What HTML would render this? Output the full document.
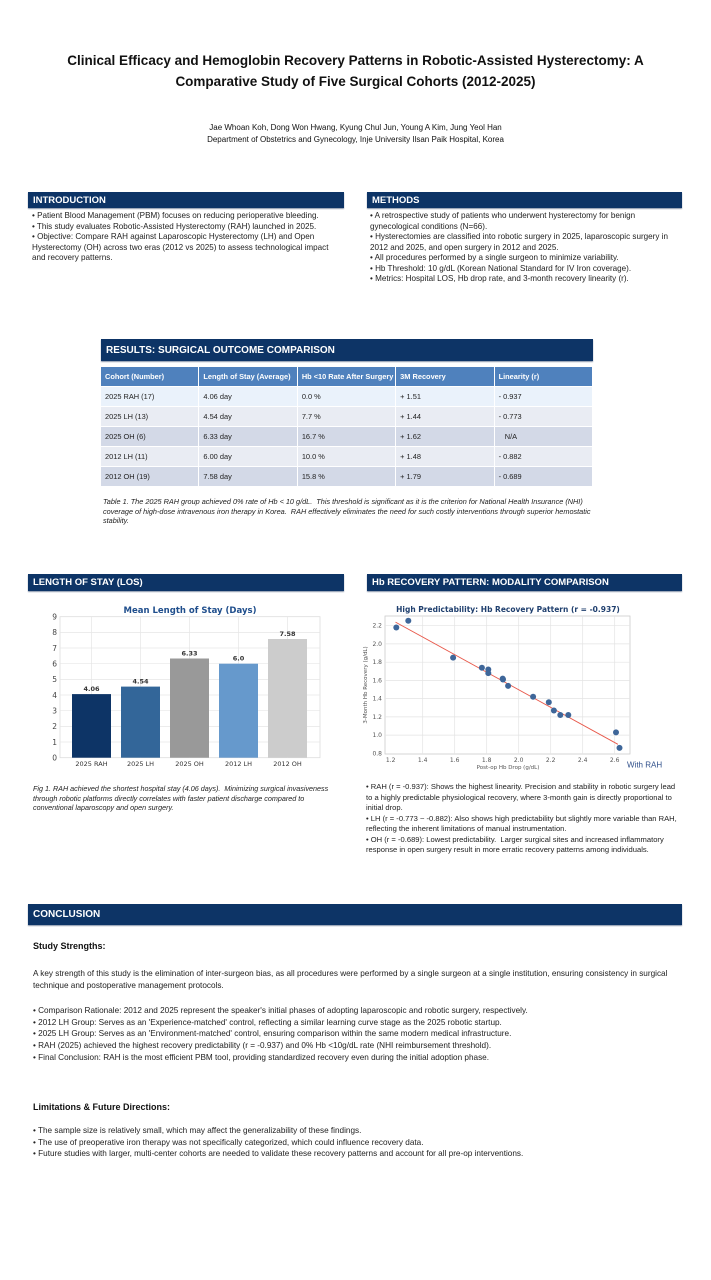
<!DOCTYPE html>
<html><head><meta charset="utf-8"><style>
body{margin:0;width:711px;height:1280px;background:#fff;position:relative;font-family:"Liberation Sans",sans-serif;color:#111;overflow:hidden}
.a{position:absolute}
.hd{position:absolute;background:#0d3466;color:#fff;font-weight:bold;font-size:9.5px;box-sizing:border-box;padding-left:5px;display:flex;align-items:center;box-shadow:0 1px 1px #8895aa}
.t{position:absolute;font-size:8.1px;line-height:10.5px;color:#222}
.it{font-style:italic;font-size:7.2px;line-height:9.6px}
table{border-collapse:collapse;font-size:7.4px;color:#222}
td{height:19px;padding:0 0 0 4px;border-right:1px solid #fff;border-bottom:1px solid #fff;width:94px}
</style></head><body>
<div class="a" style="left:0;top:50px;width:711px;text-align:center;font-weight:bold;font-size:13.5px;line-height:21px">Clinical Efficacy and Hemoglobin Recovery Patterns in Robotic-Assisted Hysterectomy: A<br>Comparative Study of Five Surgical Cohorts (2012-2025)</div>
<div class="a" style="left:0;top:122px;width:711px;text-align:center;font-size:8px;line-height:11.5px">Jae Whoan Koh, Dong Won Hwang, Kyung Chul Jun, Young A Kim, Jung Yeol Han<br>Department of Obstetrics and Gynecology, Inje University Ilsan Paik Hospital, Korea</div>

<div class="hd" style="left:28px;top:192px;width:316px;height:16px">INTRODUCTION</div>
<div class="t" style="left:32px;top:211px;width:312px">• Patient Blood Management (PBM) focuses on reducing perioperative bleeding.<br>• This study evaluates Robotic-Assisted Hysterectomy (RAH) launched in 2025.<br>• Objective: Compare RAH against Laparoscopic Hysterectomy (LH) and Open Hysterectomy (OH) across two eras (2012 vs 2025) to assess technological impact and recovery patterns.</div>

<div class="hd" style="left:367px;top:192px;width:315px;height:16px">METHODS</div>
<div class="t" style="left:370px;top:211px;width:312px">• A retrospective study of patients who underwent hysterectomy for benign gynecological conditions (N=66).<br>• Hysterectomies are classified into robotic surgery in 2025, laparoscopic surgery in 2012 and 2025, and open surgery in 2012 and 2025.<br>• All procedures performed by a single surgeon to minimize variability.<br>• Hb Threshold: 10 g/dL (Korean National Standard for IV Iron coverage).<br>• Metrics: Hospital LOS, Hb drop rate, and 3-month recovery linearity (r).</div>

<div class="hd" style="left:101px;top:339px;width:492px;height:22px;font-size:10px">RESULTS: SURGICAL OUTCOME COMPARISON</div>
<table class="a" style="left:101px;top:367px;width:492px">
<tr style="background:#4f81bd;color:#fff;font-weight:bold"><td style="height:18px">Cohort (Number)</td><td>Length of Stay (Average)</td><td>Hb &lt;10 Rate After Surgery</td><td>3M Recovery</td><td>Linearity (r)</td></tr>
<tr style="background:#eaf2fb"><td>2025 RAH (17)</td><td>4.06 day</td><td>0.0 %</td><td>+ 1.51</td><td>- 0.937</td></tr>
<tr style="background:#e9ecf3"><td>2025 LH (13)</td><td>4.54 day</td><td>7.7 %</td><td>+ 1.44</td><td>- 0.773</td></tr>
<tr style="background:#d3d9e7"><td>2025 OH (6)</td><td>6.33 day</td><td>16.7 %</td><td>+ 1.62</td><td>&nbsp;&nbsp;&nbsp;N/A</td></tr>
<tr style="background:#e9ecf3"><td>2012 LH (11)</td><td>6.00 day</td><td>10.0 %</td><td>+ 1.48</td><td>- 0.882</td></tr>
<tr style="background:#d3d9e7"><td>2012 OH (19)</td><td>7.58 day</td><td>15.8 %</td><td>+ 1.79</td><td>- 0.689</td></tr>
</table>
<div class="t it" style="left:103px;top:497px;width:492px;font-size:7.3px">Table 1. The 2025 RAH group achieved 0% rate of Hb &lt; 10 g/dL.&nbsp; This threshold is significant as it is the criterion for National Health Insurance (NHI) coverage of high-dose intravenous iron therapy in Korea.&nbsp; RAH effectively eliminates the need for such costly interventions through superior hemostatic stability.</div>

<div class="hd" style="left:28px;top:574px;width:316px;height:17px">LENGTH OF STAY (LOS)</div>
<div class="hd" style="left:367px;top:574px;width:315px;height:17px">Hb RECOVERY PATTERN: MODALITY COMPARISON</div>

<svg class="a" style="left:0;top:595px" width="355" height="180" font-family="DejaVu Sans,sans-serif">
<g transform="translate(0,-595)">
<text x="190" y="613" text-anchor="middle" font-size="8.5" font-weight="bold" fill="#1f4e8c">Mean Length of Stay (Days)</text>
<rect x="60" y="616.7" width="260" height="141" fill="#fff" stroke="#ddd" stroke-width="0.8"/>
<g stroke="#e6e6e6" stroke-width="0.7">
<line x1="60" x2="320" y1="742" y2="742"/><line x1="60" x2="320" y1="726.4" y2="726.4"/><line x1="60" x2="320" y1="710.7" y2="710.7"/><line x1="60" x2="320" y1="695" y2="695"/><line x1="60" x2="320" y1="679.4" y2="679.4"/><line x1="60" x2="320" y1="663.7" y2="663.7"/><line x1="60" x2="320" y1="648" y2="648"/><line x1="60" x2="320" y1="632.4" y2="632.4"/>
<line x1="91.5" x2="91.5" y1="617" y2="758"/><line x1="140.5" x2="140.5" y1="617" y2="758"/><line x1="189.5" x2="189.5" y1="617" y2="758"/><line x1="238.5" x2="238.5" y1="617" y2="758"/><line x1="287.5" x2="287.5" y1="617" y2="758"/>
</g>
<g font-size="7.5" fill="#444" text-anchor="end">
<text x="57" y="760.5">0</text><text x="57" y="744.8">1</text><text x="57" y="729.2">2</text><text x="57" y="713.5">3</text><text x="57" y="697.8">4</text><text x="57" y="682.2">5</text><text x="57" y="666.5">6</text><text x="57" y="650.8">7</text><text x="57" y="635.2">8</text><text x="57" y="619.5">9</text>
</g>
<rect x="72" y="694.1" width="39" height="63.6" fill="#0d3466"/>
<rect x="121" y="686.6" width="39" height="71.1" fill="#336699"/>
<rect x="170" y="658.5" width="39" height="99.2" fill="#999"/>
<rect x="219" y="663.7" width="39" height="94" fill="#6699cc"/>
<rect x="268" y="639" width="39" height="118.7" fill="#cccccc"/>
<g font-size="6.5" font-weight="bold" fill="#333" text-anchor="middle">
<text x="91.5" y="691">4.06</text><text x="140.5" y="683.5">4.54</text><text x="189.5" y="655.5">6.33</text><text x="238.5" y="660.5">6.0</text><text x="287.5" y="636">7.58</text>
</g>
<g font-size="6.5" fill="#333" text-anchor="middle">
<text x="91.5" y="766">2025 RAH</text><text x="140.5" y="766">2025 LH</text><text x="189.5" y="766">2025 OH</text><text x="238.5" y="766">2012 LH</text><text x="287.5" y="766">2012 OH</text>
</g></g></svg>
<div class="t it" style="left:33px;top:784px;width:300px">Fig 1. RAH achieved the shortest hospital stay (4.06 days).&nbsp; Minimizing surgical invasiveness through robotic platforms directly correlates with faster patient discharge compared to conventional laparoscopy and open surgery.</div>

<svg class="a" style="left:355px;top:595px" width="356" height="180" font-family="DejaVu Sans,sans-serif">
<g transform="translate(-355,-595)">
<text x="508" y="612" text-anchor="middle" font-size="7.5" font-weight="bold" fill="#1f3f6e">High Predictability: Hb Recovery Pattern (r = -0.937)</text>
<rect x="385" y="616" width="245" height="138" fill="#fff" stroke="#ccc" stroke-width="0.8"/>
<g stroke="#e3e3e3" stroke-width="0.7">
<line x1="422.7" x2="422.7" y1="616" y2="754"/><line x1="454.7" x2="454.7" y1="616" y2="754"/><line x1="486.7" x2="486.7" y1="616" y2="754"/><line x1="518.7" x2="518.7" y1="616" y2="754"/><line x1="550.7" x2="550.7" y1="616" y2="754"/><line x1="582.7" x2="582.7" y1="616" y2="754"/><line x1="614.7" x2="614.7" y1="616" y2="754"/>
<line x1="385" x2="630" y1="625.7" y2="625.7"/><line x1="385" x2="630" y1="643.9" y2="643.9"/><line x1="385" x2="630" y1="662.2" y2="662.2"/><line x1="385" x2="630" y1="680.4" y2="680.4"/><line x1="385" x2="630" y1="698.6" y2="698.6"/><line x1="385" x2="630" y1="716.9" y2="716.9"/><line x1="385" x2="630" y1="735.1" y2="735.1"/>
</g>
<g font-size="6" fill="#555" text-anchor="end">
<text x="382" y="627.7">2.2</text><text x="382" y="645.9">2.0</text><text x="382" y="664.2">1.8</text><text x="382" y="682.4">1.6</text><text x="382" y="700.6">1.4</text><text x="382" y="718.9">1.2</text><text x="382" y="737.1">1.0</text><text x="382" y="755.3">0.8</text>
</g>
<g font-size="6" fill="#555" text-anchor="middle">
<text x="390.7" y="762">1.2</text><text x="422.7" y="762">1.4</text><text x="454.7" y="762">1.6</text><text x="486.7" y="762">1.8</text><text x="518.7" y="762">2.0</text><text x="550.7" y="762">2.2</text><text x="582.7" y="762">2.4</text><text x="614.7" y="762">2.6</text>
</g>
<text x="508" y="769" text-anchor="middle" font-size="5.5" fill="#555">Post-op Hb Drop (g/dL)</text>
<text transform="translate(367,685) rotate(-90)" text-anchor="middle" font-size="5.5" fill="#555">3-Month Hb Recovery (g/dL)</text>
<line x1="395.5" y1="622.1" x2="617.9" y2="744.3" stroke="#e8584a" stroke-width="0.9"/>
<g fill="#3e6699">
<circle cx="396.3" cy="627.5" r="3"/><circle cx="408.3" cy="620.7" r="3"/><circle cx="453.1" cy="657.6" r="3"/><circle cx="481.9" cy="667.7" r="3"/><circle cx="488.3" cy="669.5" r="3"/><circle cx="488.3" cy="673.1" r="3"/><circle cx="502.7" cy="678.6" r="3"/><circle cx="508.1" cy="685.9" r="3"/><circle cx="533.1" cy="696.8" r="3"/><circle cx="548.8" cy="702.3" r="3"/><circle cx="553.9" cy="710.5" r="3"/><circle cx="560.3" cy="715" r="3"/><circle cx="568.3" cy="715" r="3"/><circle cx="616" cy="732.4" r="3"/><circle cx="619.5" cy="747.9" r="3"/><circle cx="503" cy="679.5" r="3"/>
</g>
<text x="627" y="767.5" font-family="Liberation Sans,sans-serif" font-size="8" fill="#2f4f8a">With RAH</text>
</g></svg>
<div class="t" style="left:366px;top:782px;width:312px;font-size:7.6px">• RAH (r = -0.937): Shows the highest linearity. Precision and stability in robotic surgery lead to a highly predictable physiological recovery, where 3-month gain is directly proportional to initial drop.<br>• LH (r = -0.773 ~ -0.882): Also shows high predictability but slightly more variable than RAH, reflecting the inherent limitations of manual instrumentation.<br>• OH (r = -0.689): Lowest predictability.&nbsp; Larger surgical sites and increased inflammatory response in open surgery result in more erratic recovery patterns among individuals.</div>

<div class="hd" style="left:28px;top:904px;width:654px;height:21px;font-size:10px">CONCLUSION</div>
<div class="a" style="left:33px;top:941px;font-weight:bold;font-size:9px">Study Strengths:</div>
<div class="t" style="left:33px;top:968px;width:655px;line-height:11.7px;font-size:8.2px">A key strength of this study is the elimination of inter-surgeon bias, as all procedures were performed by a single surgeon at a single institution, ensuring consistency in surgical technique and postoperative management protocols.</div>
<div class="t" style="left:33px;top:1005px;width:655px;line-height:11.7px;font-size:8.2px">• Comparison Rationale: 2012 and 2025 represent the speaker's initial phases of adopting laparoscopic and robotic surgery, respectively.<br>• 2012 LH Group: Serves as an 'Experience-matched' control, reflecting a similar learning curve stage as the 2025 robotic startup.<br>• 2025 LH Group: Serves as an 'Environment-matched' control, ensuring comparison within the same modern medical infrastructure.<br>• RAH (2025) achieved the highest recovery predictability (r = -0.937) and 0% Hb &lt;10g/dL rate (NHI reimbursement threshold).<br>• Final Conclusion: RAH is the most efficient PBM tool, providing standardized recovery even during the initial adoption phase.</div>
<div class="a" style="left:33px;top:1102px;font-weight:bold;font-size:9px">Limitations &amp; Future Directions:</div>
<div class="t" style="left:33px;top:1125px;width:655px;line-height:11.7px;font-size:8.2px">• The sample size is relatively small, which may affect the generalizability of these findings.<br>• The use of preoperative iron therapy was not specifically categorized, which could influence recovery data.<br>• Future studies with larger, multi-center cohorts are needed to validate these recovery patterns and account for all pre-op interventions.</div>
</body></html>
